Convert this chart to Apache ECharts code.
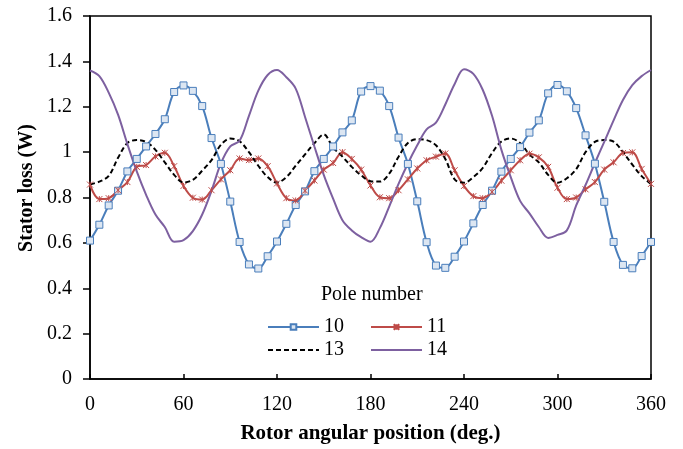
<!DOCTYPE html>
<html><head><meta charset="utf-8">
<script src="https://cdn.jsdelivr.net/npm/echarts@6/dist/echarts.min.js"></script>
<style>html,body{margin:0;padding:0;background:#fff}#c{width:683px;height:449px}</style>
</head><body><div id="c"></div>
<script>
const angles = [0,6,12,18,24,30,36,42,48,54,60,66,72,78,84,90,96,102,108,114,120,126,132,138,144,150,156,162,168,174,180,186,192,198,204,210,216,222,228,234,240,246,252,258,264,270,276,282,288,294,300,306,312,318,324,330,336,342,348,354,360];
const pole10 = [0.61,0.68,0.765,0.83,0.915,0.97,1.025,1.08,1.145,1.265,1.294,1.27,1.203,1.062,0.948,0.782,0.604,0.505,0.487,0.541,0.606,0.684,0.767,0.827,0.916,0.97,1.025,1.087,1.14,1.267,1.291,1.271,1.203,1.064,0.948,0.783,0.603,0.5,0.49,0.539,0.606,0.686,0.767,0.83,0.914,0.97,1.022,1.086,1.14,1.259,1.296,1.268,1.194,1.074,0.949,0.781,0.604,0.503,0.488,0.542,0.604];
const pole11 = [0.857,0.793,0.797,0.832,0.868,0.935,0.943,0.981,0.997,0.938,0.851,0.799,0.791,0.832,0.88,0.92,0.972,0.965,0.972,0.938,0.862,0.797,0.787,0.83,0.875,0.923,0.952,1.0,0.97,0.923,0.853,0.801,0.797,0.832,0.88,0.928,0.964,0.98,0.994,0.92,0.851,0.806,0.797,0.825,0.874,0.92,0.964,0.993,0.977,0.935,0.843,0.793,0.8,0.836,0.868,0.923,0.955,0.996,0.999,0.926,0.86];
const pole13 = [0.858,0.87,0.895,0.975,1.04,1.053,1.045,1.01,0.955,0.9,0.866,0.878,0.918,0.965,1.032,1.06,1.048,1.0,0.94,0.89,0.866,0.89,0.94,0.99,1.039,1.078,1.02,0.98,0.935,0.898,0.872,0.87,0.905,0.98,1.04,1.057,1.053,1.03,0.97,0.88,0.865,0.89,0.93,0.996,1.047,1.06,1.04,0.99,0.955,0.9,0.865,0.885,0.925,1.0,1.045,1.053,1.046,1.0,0.945,0.894,0.86];
const pole14 = [1.36,1.335,1.262,1.165,1.035,0.915,0.812,0.725,0.67,0.605,0.612,0.652,0.725,0.83,0.95,1.025,1.05,1.16,1.271,1.34,1.362,1.33,1.28,1.155,1.025,0.9,0.795,0.7,0.655,0.625,0.605,0.665,0.76,0.86,0.95,1.03,1.1,1.13,1.21,1.3,1.365,1.345,1.275,1.16,1.01,0.89,0.785,0.73,0.67,0.622,0.635,0.655,0.765,0.855,0.952,1.045,1.14,1.23,1.295,1.335,1.362];
const yTicks = [0,0.2,0.4,0.6,0.8,1,1.2,1.4,1.6];
const xTicks = [0,60,120,180,240,300,360];

const pair = arr => angles.map((a,i)=>[a,arr[i]]);
const font = 'Liberation Serif, Times New Roman, serif';
const chart = echarts.init(document.getElementById('c'), null, {renderer:'canvas'});
const legendText = {fontFamily:font, fontSize:20, color:'#000'};
chart.setOption({
  animation:false,
  backgroundColor:'#fff',
  textStyle:{fontFamily:font},
  title:{text:'Pole number', left:316, top:280, textStyle:{fontFamily:font, fontSize:20, fontWeight:'normal', color:'#000'}},
  legend:[
    {data:[{name:'10'},{name:'11'}], left:262, top:312, itemWidth:51, itemHeight:7, itemGap:26, textStyle:legendText},
    {data:[{name:'13', itemStyle:{opacity:0}},{name:'14', itemStyle:{opacity:0}}], left:262, top:335, itemWidth:51, itemHeight:7, itemGap:26, textStyle:legendText}
  ],
  graphic:[{type:'text', rotation:Math.PI/2, x:27, y:188,
    style:{text:'Stator loss (W)', font:'bold 20px Liberation Serif', fill:'#000', textAlign:'center', textVerticalAlign:'middle'}}],
  grid:{left:90, right:32, top:16, bottom:65, show:true, borderColor:'#000', borderWidth:1.5, backgroundColor:'transparent'},
  xAxis:{type:'value', min:xTicks[0], max:xTicks[xTicks.length-1], interval:60,
    name:'Rotor angular position (deg.)', nameLocation:'middle', nameGap:44,
    nameTextStyle:{fontFamily:font, fontSize:21, fontWeight:'bold', color:'#000'},
    axisLine:{lineStyle:{color:'#000', width:1.5}},
    axisTick:{inside:true, length:5, lineStyle:{color:'#000', width:1.5}},
    axisLabel:{fontFamily:font, fontSize:20, color:'#000', margin:16},
    splitLine:{show:false}},
  yAxis:{type:'value', min:yTicks[0], max:yTicks[yTicks.length-1], interval:0.2,
    axisLine:{lineStyle:{color:'#000', width:1.5}},
    axisTick:{inside:false, length:7, lineStyle:{color:'#000', width:1.5}},
    axisLabel:{fontFamily:font, fontSize:20, color:'#000', margin:18},
    splitLine:{show:false}},
  series:[
    {name:'10', type:'line', data:pair(pole10), smooth:0.35, symbol:'rect', symbolSize:7,
      lineStyle:{color:'#4A7EBB', width:2}, itemStyle:{color:'#DCE6F2', borderColor:'#4A7EBB', borderWidth:1}},
    {name:'11', type:'line', data:pair(pole11), smooth:0.35, symbol:'path://M0,0L10,10M10,0L0,10M5,0L5,10', symbolSize:6,
      lineStyle:{color:'#BE4B48', width:2}, itemStyle:{color:'rgba(0,0,0,0)', borderColor:'#BE4B48', borderWidth:1}},
    {name:'13', type:'line', data:pair(pole13), smooth:0.35, symbol:'none', showSymbol:false,
      lineStyle:{color:'#000', width:2, type:[5,3]}, itemStyle:{color:'#000'}},
    {name:'14', type:'line', data:pair(pole14), smooth:0.35, symbol:'none', showSymbol:false,
      lineStyle:{color:'#7D60A0', width:2}, itemStyle:{color:'#7D60A0'}}
  ]
});
</script></body></html>
